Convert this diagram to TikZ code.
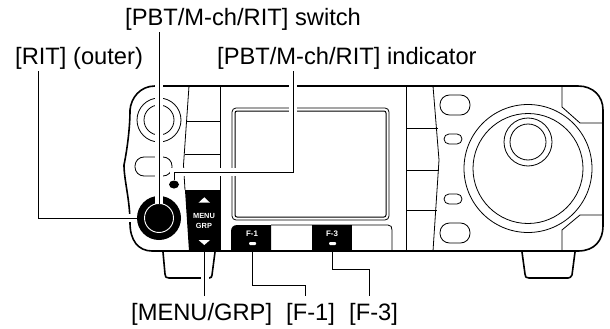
\documentclass[tikz,border=0pt]{standalone}
\usepackage{fontspec}
\setmainfont{Liberation Sans}
\usetikzlibrary{positioning,calc,shapes.geometric}
\tikzset{
  panel/.style={draw=black,line width=0.8pt},
  shell/.style={draw=black,line width=1.6pt,line cap=round,line join=round},
  leader/.style={draw=black,line width=1pt,preaction={draw=white,line width=8pt}},
  tail/.style={draw=black,line width=1pt},
  lab/.style={font=\fontsize{23.7}{24}\selectfont,inner sep=1pt,anchor=base west},
  keytxt/.style={text=white,font=\bfseries\fontsize{7.4}{8}\selectfont,inner sep=0pt},
  fkey/.style={fill=black},
  tick/.style={fill=white,rounded corners=1pt},
  tri/.style={fill=white},
}

\begin{document}
\begin{tikzpicture}[x=1pt,y=-1pt]
  \useasboundingbox (0,0) rectangle (610,329);
  % --- case outline ---
  \draw[shell] (155,86) .. controls (140,86) and (131,98) .. (130,110)
       .. controls (130,125) and (128,145) .. (124,165)
       .. controls (124,180) and (130,200) .. (130,223)
       .. controls (130,240) and (138,251) .. (152,251) -- (578,251)
       .. controls (595,251) and (603,240) .. (603,226) -- (603,110)
       .. controls (603,96) and (593,86) .. (578,86) -- cycle;
  % feet
  \draw[shell] (163,252) -- (165,274) .. controls (165,277) and (166,278) .. (169,278)
       -- (209,278) .. controls (211,278) and (212,277) .. (212,275) -- (215,252);
  \draw[shell] (522,252) -- (525,274) .. controls (525,277) and (526,278) .. (529,278)
       -- (568,278) .. controls (570,278) and (571,277) .. (572,275) -- (575,252);
  % --- left column ---
  \draw[panel] (159,120) circle (22) (159,120) circle (15);
  \draw[panel,rounded corners=9pt] (135,157) rectangle (172,176);
  \draw[panel] (189,86) -- (183.5,165) -- (185,190);
  \draw[panel] (220,86) -- (220,251);
  \draw[panel] (187,121) -- (220,121) (185,154) -- (220,154);
  \node[ellipse,fill=black,minimum width=10pt,minimum height=8pt,inner sep=0pt] (ledind) at (174,184.5) {};
  \node[circle,fill=black,minimum size=44pt,inner sep=0pt] (ritknob) at (159,218) {};
  \draw[white,line width=0.9pt] (ritknob.center) circle (14.5);
  % MENU/GRP key
  \fill (185,190) -- (220,190) -- (220,251) -- (189,251) -- cycle;
  \fill[tri] (204.3,197.3) -- (210,202.7) -- (198.5,202.7) -- cycle;
  \fill[tri] (204.3,245) -- (210,240) -- (198.5,240) -- cycle;
  \node[keytxt] (menutxt) at (204,215.5) {MENU};
  \node[keytxt] (grptxt) at (204,225.5) {GRP};
  % --- screen ---
  \draw[panel,rounded corners=4pt] (232,108) rectangle (389,220);
  \draw[panel,line width=1pt,rounded corners=2pt] (235,111) rectangle (386,217);
  % --- function keys ---
  \draw[panel] (271,225) -- (388,225) .. controls (391,225) and (392,227) .. (392,230) -- (392,251);
  \fill[fkey] (231,251) -- (231,232) .. controls (231,227) and (233,225) .. (238,225) -- (271,225) -- (271,251) -- cycle;
  \fill[fkey] (312,225) rectangle (352,251);
  \node[keytxt,font=\bfseries\fontsize{8}{8}\selectfont] (fonetxt) at (252,234) {F-1};
  \node[keytxt,font=\bfseries\fontsize{8}{8}\selectfont] (fthreetxt) at (332,234) {F-3};
  \fill[tick] (249,242) rectangle (256,245);
  \fill[tick] (329,242) rectangle (336,245);
  % --- right column ---
  \draw[panel] (406,86) -- (406,251);
  \draw[panel] (433,86) -- (439,160) -- (433,251);
  \draw[panel] (406,128) -- (438,128) (406,170) -- (439,170) (406,210) -- (437,210);
  \draw[panel,rounded corners=9.5pt] (440,95) rectangle (470,115);
  \draw[panel,rounded corners=5pt] (444,134) rectangle (462,144);
  \draw[panel,rounded corners=5pt] (444,194) rectangle (462,204);
  \draw[panel,rounded corners=9.5pt] (440,223) rectangle (470,243);
  % --- dial ---
  \draw[panel] (528,168.5) circle (64) (528,168.5) circle (55);
  \draw[panel] (528,142) circle (24) (528,142) circle (18);
  % corner panels
  \draw[panel] (562,86) -- (562,107) -- (580,123) -- (603,123);
  \draw[panel] (603,215) -- (580,215) -- (562,230) -- (562,251);
  % --- labels ---
  \node[lab] (swlab) at (124,26) {[PBT/M-ch/RIT] switch};
  \node[lab] (ritlab) at (14,65) {[RIT] (outer)};
  \node[lab] (indlab) at (216,65) {[PBT/M-ch/RIT] indicator};
  \node[lab] (menulab) at (130,320.5) {[MENU/GRP]};
  \node[lab] (f1lab) at (285,320.5) {[F-1]};
  \node[lab] (f3lab) at (348,320.5) {[F-3]};
  % --- leaders ---
  \coordinate (swend) at (159,204);
  \coordinate (f1end) at (252.5,251);
  \coordinate (f3end) at (332,251);
  \coordinate (menuend) at (204.5,252);
  \coordinate (ritx) at (38,0);
  \coordinate (indx) at (293,0);
  \coordinate (f1x) at (305,0);
  \coordinate (f3x) at (369,0);
  \coordinate (indbend) at (174,172);
  \coordinate (f1bend) at (305,285);
  \coordinate (f3bend) at (369,269);
  \draw[leader] (swlab.south -| swend) -- (swend);
  \draw[leader] (ritlab.south -| ritx) |- (ritknob.west);
  \draw[leader] (indlab.south -| indx) |- (indbend) -- (ledind.north);
  \draw[leader] ([yshift=6pt]menulab.north -| menuend) -- (menuend);
  \draw[tail] (f1end) |- (f1bend) -- ([yshift=6pt]f1lab.north -| f1x);
  \draw[tail] (f3end) |- (f3bend) -- ([yshift=6pt]f3lab.north -| f3x);
\end{tikzpicture}
\end{document}
